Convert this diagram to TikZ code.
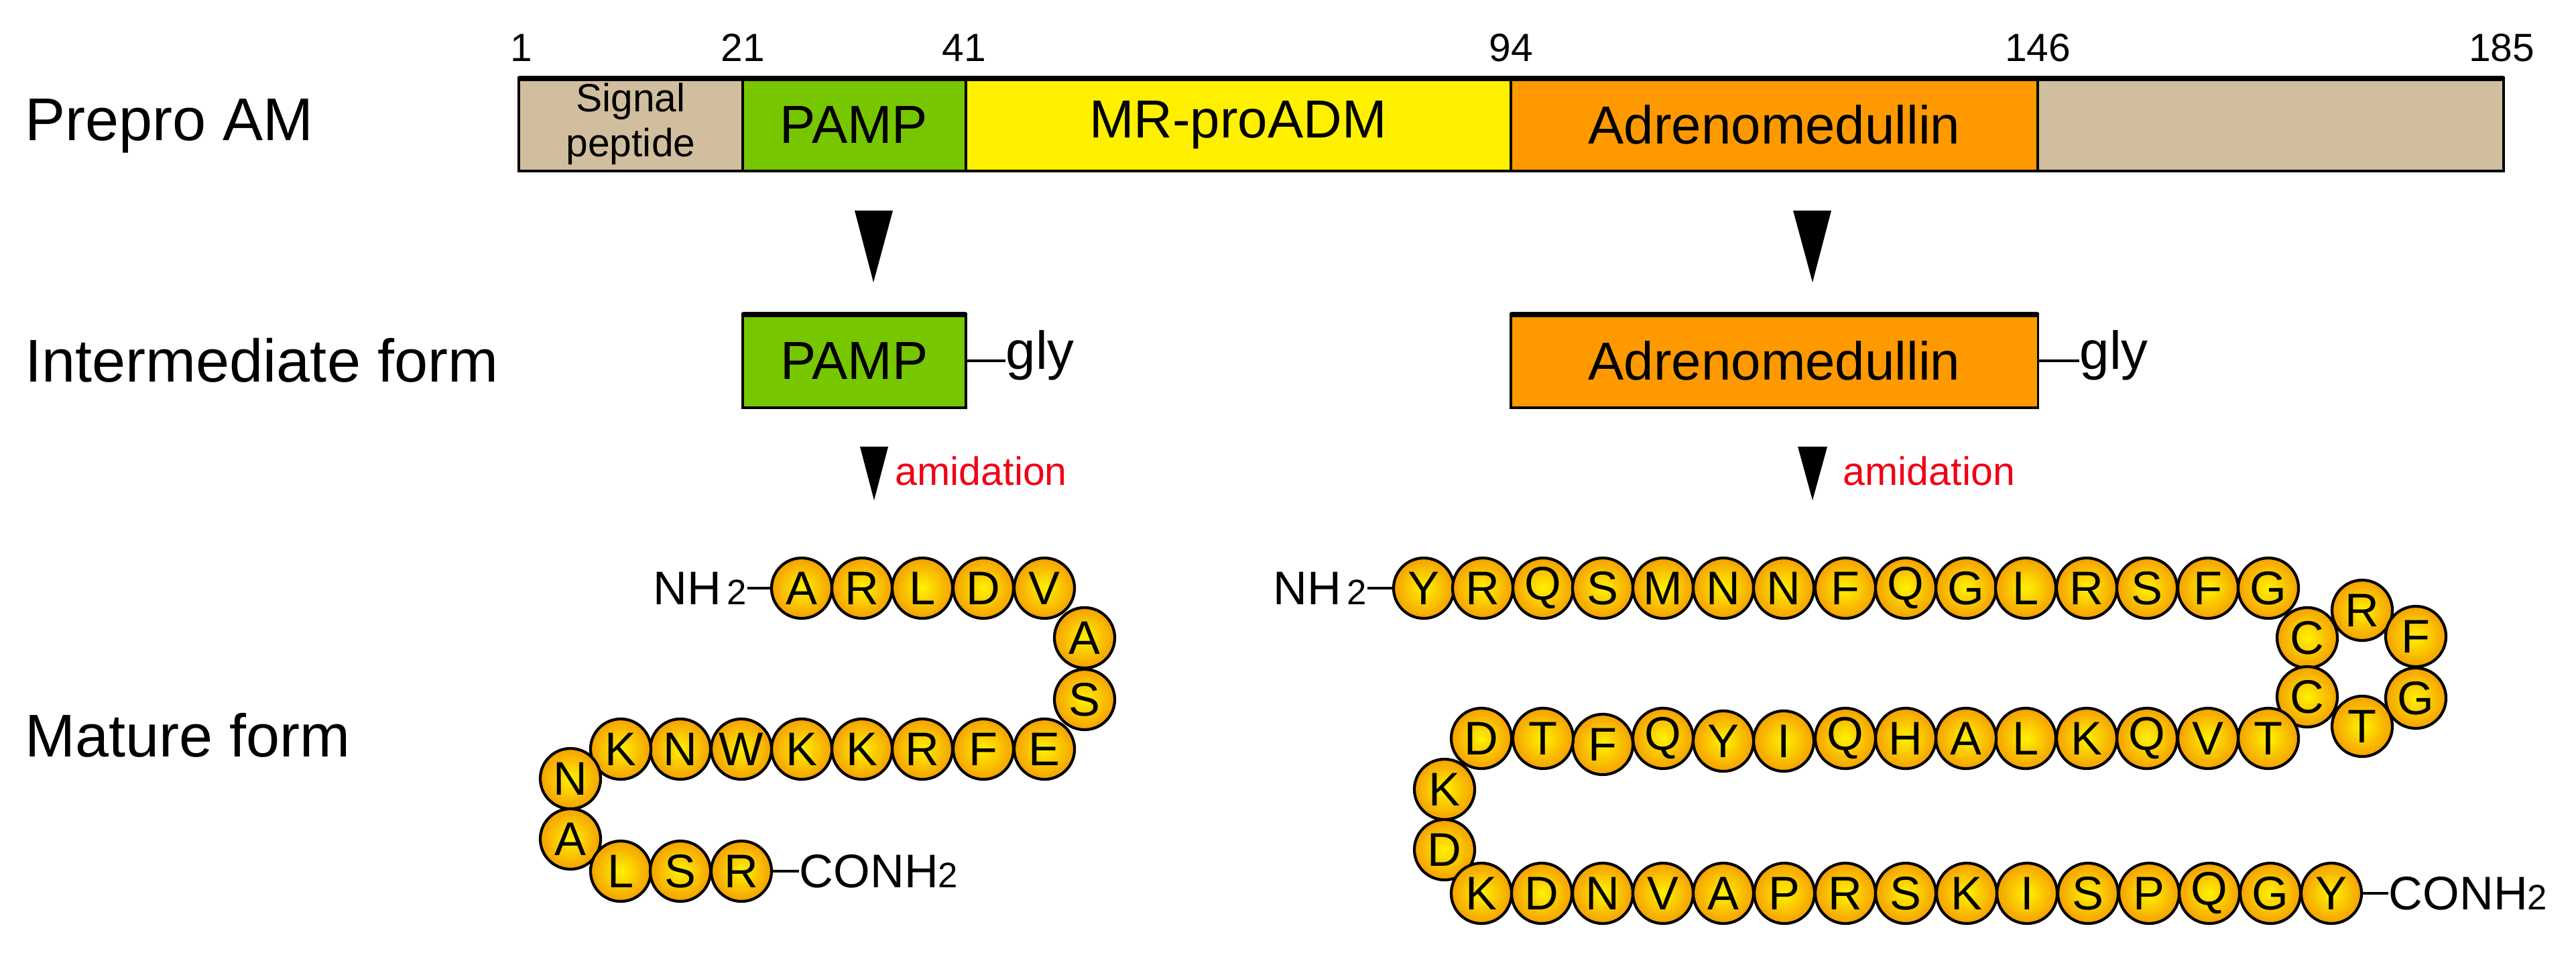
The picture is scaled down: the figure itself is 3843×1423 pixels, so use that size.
\documentclass[tikz,border=0pt]{standalone}
\usepackage{fontspec}
\setmainfont{Liberation Sans}
\begin{document}
\begin{tikzpicture}[x=0.01cm,y=-0.01cm,
  lab/.style={anchor=west,inner sep=0,font=\fontsize{25.6}{28}\selectfont},
  num/.style={inner sep=0,font=\fontsize{16.7}{18}\selectfont},
  seg/.style={draw=black,line width=1pt,inner sep=0,font=\fontsize{22.7}{24}\selectfont},
  aa/.style={circle,draw=black,line width=1.2pt,minimum size=0.9cm,inner sep=0,inner color=yellow!90!orange,outer color={rgb,255:red,245;green,160;blue,0},font=\fontsize{20}{22}\selectfont},
  term/.style={inner sep=0,font=\fontsize{20}{22}\selectfont},
  red/.style={inner sep=0,anchor=west,text={rgb,255:red,240;green,0;blue,20},font=\fontsize{16.8}{18}\selectfont}]
\definecolor{tan}{RGB}{209,190,158}
\definecolor{grn}{RGB}{118,198,0}
\definecolor{yel}{RGB}{255,240,0}
\definecolor{org}{RGB}{255,153,0}
\useasboundingbox (0,0) rectangle (3843,1423);
% labels
\node[lab] (l1) at (37,188) {Prepro AM};
\node[lab] (l2) at (37,537) {Intermediate form};
\node[lab] (l3) at (37,1096) {Mature form};
% numbers
\foreach \n/\x in {1/778,21/1108,41/1438,94/2254,146/3040,185/3732}
  \node[num] (n\n) at (\x,71) {\n};
% top bar
\fill[tan] (774,116) rectangle (1108,255);
\fill[grn] (1108,116) rectangle (1441,255);
\fill[yel] (1441,116) rectangle (2254,255);
\fill[org] (2254,116) rectangle (3040,255);
\fill[tan] (3040,116) rectangle (3735,255);
\draw[line width=1pt] (1108,116)--(1108,255) (1441,116)--(1441,255) (2254,116)--(2254,255) (3040,116)--(3040,255);
\draw[line width=1.3pt] (774,116) rectangle (3735,255);
\draw[line width=2.5pt] (774,117)--(3735,117);
\node[align=center,inner sep=0,font=\fontsize{16.7}{19}\selectfont] (sp) at (941,185) {Signal\\peptide};
\node[inner sep=0,font=\fontsize{22.7}{24}\selectfont] (t1) at (1274,186) {PAMP};
\node[inner sep=0,font=\fontsize{22.7}{24}\selectfont] (t2) at (1847,186) {MR-proADM};
\node[inner sep=0,font=\fontsize{22.7}{24}\selectfont] (t3) at (2647,186) {Adrenomedullin};
% big arrows
\fill (1275,314)--(1332,314)--(1303,421)--cycle;
\fill (2675,314)--(2732,314)--(2704,421)--cycle;
% intermediate boxes
\node[seg,fill=grn,minimum width=3.33cm,minimum height=1.4cm] (ib1) at (1274.5,538) {PAMP};
\node[seg,fill=org,minimum width=7.86cm,minimum height=1.4cm] (ib2) at (2647,538) {Adrenomedullin};
\draw[line width=2.5pt] (1108,469)--(1441,469) (2254,469)--(3040,469);
\node[inner sep=0,anchor=west,font=\fontsize{22.7}{24}\selectfont] (g1) at (1500,530) {gly};
\node[inner sep=0,anchor=west,font=\fontsize{22.7}{24}\selectfont] (g2) at (3102,530) {gly};
\draw[line width=1.3pt] (ib1.east)--(g1.west|-ib1.east);
\draw[line width=1.3pt] (ib2.east)--(g2.west|-ib2.east);
% amidation
\fill (1283,666)--(1325,666)--(1304,746)--cycle;
\fill (2682,666)--(2726,666)--(2704,746)--cycle;
\node[red] (am1) at (1335,702) {amidation};
\node[red] (am2) at (2749,702) {amidation};
% PAMP mature
\foreach \l/\x/\y [count=\i] in {A/1196/877,R/1286/877,L/1376/877,D/1467/877,V/1558/877,A/1618/951,S/1618/1043,E/1558/1117,F/1467/1117,R/1376/1117,K/1286/1117,K/1196/1117,W/1106/1117,N/1015/1117,K/926/1117,N/851/1161,A/851/1251,L/926/1299,S/1015/1299,R/1106/1299}
  \node[aa] (p\i) at (\x,\y) {\l};
\node[term,anchor=east] (nh1) at (1115,877) {NH{\fontsize{15}{16}\selectfont\,2}};
\node[term,anchor=west] (co1) at (1192,1299) {CONH{\fontsize{15}{16}\selectfont 2}};
\draw[line width=1.3pt] (nh1.east)--(p1.west);
\draw[line width=1.3pt] (p20.east)--(co1.west);
% AM mature
\foreach \l/\x/\y [count=\i] in {Y/2124/877,R/2212/877,Q/2302/877,S/2391/877,M/2481/877,N/2571/877,N/2661/877,F/2753/877,Q/2843/877,G/2933/877,L/3022/877,R/3113/877,S/3203/877,F/3294/877,G/3384/877,C/3442/951,R/3524/910,F/3604/949,G/3604/1041,T/3524/1083,C/3442/1039,T/3384/1101,V/3294/1101,Q/3203/1101,K/3113/1101,L/3022/1101,A/2933/1101,H/2843/1101,Q/2753/1101,I/2661/1105,Y/2571/1105,Q/2481/1101,F/2391/1110,T/2302/1101,D/2210/1101,K/2155/1177,D/2155/1267,K/2210/1332,D/2300/1332,N/2391/1332,V/2481/1332,A/2571/1332,P/2662/1332,R/2753/1332,S/2843/1332,K/2934/1332,I/3024/1332,S/3115/1332,P/3206/1332,Q/3296/1332,G/3387/1332,Y/3478/1332}
  \node[aa] (q\i) at (\x,\y) {\l};
\node[term,anchor=east] (nh2) at (2040,877) {NH{\fontsize{15}{16}\selectfont\,2}};
\node[term,anchor=west] (co2) at (3563,1332) {CONH{\fontsize{15}{16}\selectfont 2}};
\draw[line width=1.3pt] (nh2.east)--(q1.west);
\draw[line width=1.3pt] (q52.east)--(co2.west);
\end{tikzpicture}
\end{document}
